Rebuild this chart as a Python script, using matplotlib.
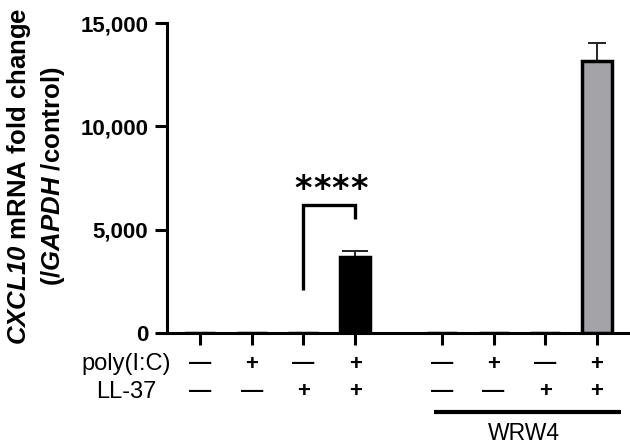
import matplotlib
matplotlib.use("Agg")
import matplotlib.pyplot as plt
from matplotlib.ticker import FuncFormatter

# fold change values (other groups ~0)
means = [0, 0, 0, 3680, 0, 0, 0, 13150]
errs = [0, 0, 0, 290, 0, 0, 0, 870]
colors = ["white", "white", "white", "black", "white", "white", "white", "#a3a3a8"]
poly_ic = ["—", "+", "—", "+", "—", "+", "—", "+"]
ll37 = ["—", "—", "+", "+", "—", "—", "+", "+"]
yticks = [0, 5000, 10000, 15000]

# bracket for the significance mark, in data units
bracket_x = [2, 2, 3, 3]
bracket_y = [2080, 6190, 6190, 5515]

plt.rcParams["font.family"] = ["Liberation Sans", "DejaVu Sans"]
plt.rcParams["mathtext.fontset"] = "custom"
plt.rcParams["mathtext.it"] = "Liberation Sans:italic:bold"
plt.rcParams["mathtext.rm"] = "Liberation Sans:italic:bold"

x = [0, 1, 2, 3, 4.68, 5.68, 6.68, 7.68]

fig = plt.figure(figsize=(6.3, 4.48), dpi=100)
ax = fig.add_axes([167 / 630, 1 - 333 / 448, 1 - 167 / 630, 310 / 448])

ax.bar(x, means, width=0.58, color=colors, edgecolor="black", linewidth=2.5, zorder=2)
for i in range(len(x)):
    if errs[i] > 0:
        cap = 9.5 if colors[i] == "black" else 6.5
        ax.errorbar(x[i], means[i], yerr=[[0], [errs[i]]], fmt="none", ecolor="#222222",
                    elinewidth=1.4, capsize=cap, capthick=1.4, zorder=1)

ax.plot(bracket_x, bracket_y, color="black", lw=2.4, solid_capstyle="butt", solid_joinstyle="miter")
# four stars, chunkier glyph, spaced like the reference
for k in range(4):
    ax.text(2.535 + (k - 1.5) * 0.358, 6950, "*", ha="center", va="center",
            fontsize=24, fontweight="bold", family="DejaVu Sans")

ax.set_xlim(-0.639, 8.32)
ax.set_ylim(0, 15000)
ax.set_yticks(yticks)
ax.yaxis.set_major_formatter(FuncFormatter(lambda v, p: f"{int(v):,}"))
ax.set_xticks(x)
ax.set_xticklabels([])
for s in ["top", "right"]:
    ax.spines[s].set_visible(False)
for s in ["left", "bottom"]:
    ax.spines[s].set_linewidth(2.2)
ax.tick_params(axis="both", length=8.5, width=2.2, direction="out")
ax.tick_params(axis="y", labelsize=16, pad=5)
for lab in ax.get_yticklabels():
    lab.set_fontweight("bold")

tr = ax.get_xaxis_transform()
for i in range(len(x)):
    ax.text(x[i], -0.10, poly_ic[i], transform=tr, ha="center", va="center",
            fontsize=16, fontweight="bold", clip_on=False)
    ax.text(x[i], -0.19, ll37[i], transform=tr, ha="center", va="center",
            fontsize=16, fontweight="bold", clip_on=False)
ax.text(-1.43, -0.10, "poly(I:C)", transform=tr, ha="center", va="center", fontsize=17)
ax.text(-1.43, -0.19, "LL-37", transform=tr, ha="center", va="center", fontsize=17)

ax.plot([4.53, 8.15], [-0.255, -0.255], transform=tr, color="black", lw=3, clip_on=False,
        solid_capstyle="butt")
ax.text(6.27, -0.323, "WRW4", transform=tr, ha="center", va="center", fontsize=16.5)

fig.text(36 / 630, 1 - 176 / 448,
         r"$\mathit{CXCL10}$ mRNA fold change" + "\n" + r"(/$\mathit{GAPDH}$ /control)",
         rotation=90, ha="center", va="center", fontsize=18.5, fontweight="bold",
         linespacing=1.25, multialignment="center")

fig.savefig("out.png", dpi=100)
